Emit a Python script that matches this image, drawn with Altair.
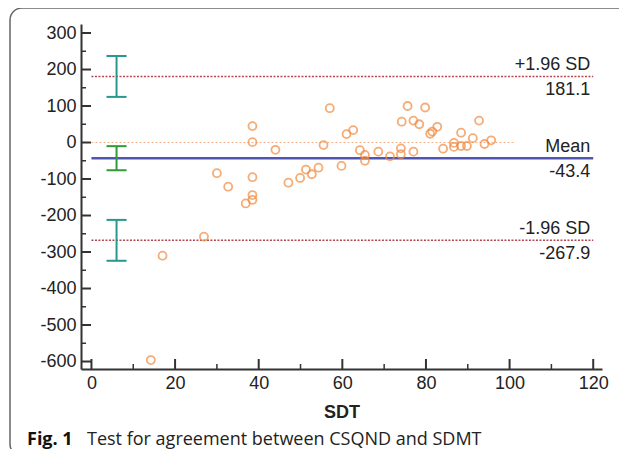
import altair as alt
import pandas as pd

# ---- data ----
sdt = [14.2, 17.0, 26.9, 30.0, 32.7, 36.9, 38.5, 38.5, 38.5, 38.5, 38.5, 44.0,
       47.1, 49.9, 51.3, 52.7, 54.3, 55.5, 57.0, 59.8, 61.0, 62.6, 64.2, 65.4,
       65.4, 68.6, 71.4, 74.0, 74.0, 74.2, 75.6, 77.0, 77.0, 78.4, 79.8, 81.0,
       81.5, 82.7, 84.1, 86.7, 86.7, 88.4, 88.4, 89.8, 91.2, 92.7, 94.0, 95.6]
diff = [-596, -310, -258, -84, -121, -167, -157, -144, -95, 1, 45, -20,
        -110, -97, -74, -87, -69, -7, 94, -64, 23, 34, -21, -34,
        -50, -25, -38, -16, -32, 57, 100, -25, 60, 50, 96, 24,
        30, 43, -17, -1, -12, 27, -9.5, -9.5, 12, 60, -4, 6]

limit_values = [181.1, -43.4, -267.9]
limit_names = ["+1.96 SD", "Mean", "-1.96 SD"]
limit_texts = ["181.1", "-43.4", "-267.9"]

ci_x = 6
ci_low = [125, -76, -324]
ci_high = [237, -10, -212]
ci_kind = ["limit", "mean", "limit"]

y_major = list(range(-600, 301, 100))
y_minor = list(range(-550, 251, 100))
x_major = [0, 20, 40, 60, 80, 100, 120]
x_minor = [10, 30, 50, 70, 90, 110]

caption_bold = "Fig. 1"
caption_text = "Test for agreement between CSQND and SDMT"

# ---- tables ----
pts = pd.DataFrame({"x": sdt, "y": diff})
lims = pd.DataFrame({"x": [0] * 3, "x2": [120] * 3, "y": limit_values,
                     "name": limit_names, "val": limit_texts,
                     "kind": ["sd", "mean", "sd"]})
zero = pd.DataFrame({"x": [0], "x2": [101], "y": [0]})
ci = pd.DataFrame({"x": [ci_x] * 3, "xa": [ci_x - 2.4] * 3, "xb": [ci_x + 2.4] * 3,
                   "lo": ci_low, "hi": ci_high, "kind": ci_kind})

W, H = 521, 345
FONT = "Liberation Sans"
FS = 18

xs = alt.Scale(domain=[-2.5, 122.1], nice=False, zero=False)
ys = alt.Scale(domain=[-620.5, 324.7], nice=False, zero=False)

x_axis = alt.Axis(values=x_major, ticks=False, labelPadding=5, labelFontSize=FS,
                  labelFont=FONT, labelColor="#222", domainColor="#333",
                  domainWidth=2, grid=False, title="SDT", titleFont=FONT,
                  titleFontSize=18, titleFontWeight="bold", titleColor="#222",
                  titlePadding=11)
y_axis = alt.Axis(values=y_major, ticks=False, labelPadding=5, labelFontSize=FS,
                  labelFont=FONT, labelColor="#222", domainColor="#333",
                  domainWidth=2, grid=False, title=None,
                  labelExpr="'' + datum.value")


def X(field, **kw):
    return alt.X(field, type="quantitative", scale=xs, axis=x_axis, title="SDT", **kw)


def Y(field, **kw):
    return alt.Y(field, type="quantitative", scale=ys, axis=y_axis, title=None, **kw)


points = alt.Chart(pts).mark_point(shape="circle", filled=False, size=64,
                                   strokeWidth=1.8, color="#f28a3e").encode(
    x=X("x"), y=Y("y"))

zero_line = alt.Chart(zero).mark_rule(color="#f7b48c", strokeWidth=1.2,
                                      strokeDash=[2, 2]).encode(
    x=X("x"), x2="x2", y=Y("y"))

sd_lines = alt.Chart(lims).transform_filter("datum.kind == 'sd'").mark_rule(
    color="#b3474f", strokeWidth=1.5, strokeDash=[2, 1.5]).encode(
    x=X("x"), x2="x2", y=Y("y"))

mean_line = alt.Chart(lims).transform_filter("datum.kind == 'mean'").mark_rule(
    color="#5054b3", strokeWidth=2.5).encode(x=X("x"), x2="x2", y=Y("y"))

lab_top = alt.Chart(lims).mark_text(align="right", baseline="alphabetic", dy=-6, dx=-3,
                                    font=FONT, fontSize=FS, color="#222").encode(
    x=X("x2"), y=Y("y"), text="name:N")
lab_bot = alt.Chart(lims).mark_text(align="right", baseline="alphabetic", dy=19, dx=-3,
                                    font=FONT, fontSize=FS, color="#222").encode(
    x=X("x2"), y=Y("y"), text="val:N")

ci_color = alt.Color("kind:N", scale=alt.Scale(domain=["limit", "mean"],
                                               range=["#27978f", "#2f9a3a"]),
                     legend=None)
ci_v = alt.Chart(ci).mark_rule(strokeWidth=2).encode(
    x=X("x"), y=Y("lo"), y2="hi", color=ci_color)
ci_top = alt.Chart(ci).mark_rule(strokeWidth=2).encode(
    x=X("xa"), x2="xb", y=Y("hi"), color=ci_color)
ci_bot = alt.Chart(ci).mark_rule(strokeWidth=2).encode(
    x=X("xa"), x2="xb", y=Y("lo"), color=ci_color)

# inward axis ticks
ymaj = alt.Chart(pd.DataFrame({"y": y_major})).mark_rule(color="#333", strokeWidth=2).encode(
    y=Y("y"), x=alt.value(0), x2=alt.value(10))
ymin = alt.Chart(pd.DataFrame({"y": y_minor})).mark_rule(color="#333", strokeWidth=1.5).encode(
    y=Y("y"), x=alt.value(0), x2=alt.value(5))
xmaj = alt.Chart(pd.DataFrame({"x": x_major})).mark_rule(color="#333", strokeWidth=2).encode(
    x=X("x"), y=alt.value(H), y2=alt.value(H - 10))
xmin = alt.Chart(pd.DataFrame({"x": x_minor})).mark_rule(color="#333", strokeWidth=1.5).encode(
    x=X("x"), y=alt.value(H), y2=alt.value(H - 5))

# figure frame and caption
frame = alt.Chart(pd.DataFrame({"a": [0]})).mark_rect(
    fill="transparent", stroke="#666", strokeWidth=1.5, cornerRadius=12).encode(
    x=alt.value(-71), x2=alt.value(570), y=alt.value(-16), y2=alt.value(432))

cap1 = alt.Chart(pd.DataFrame({"t": [caption_bold]})).mark_text(
    align="left", baseline="alphabetic", font="Open Sans", fontWeight="bold",
    fontSize=18, color="#111").encode(x=alt.value(-54), y=alt.value(421), text="t:N")
cap2 = alt.Chart(pd.DataFrame({"t": [caption_text]})).mark_text(
    align="left", baseline="alphabetic", font="Open Sans", fontSize=18,
    color="#222").encode(x=alt.value(6), y=alt.value(421), text="t:N")

chart = alt.layer(
    frame, zero_line, sd_lines, mean_line, ci_v, ci_top, ci_bot,
    points, lab_top, lab_bot, ymaj, ymin, xmaj, xmin, cap1, cap2
).properties(
    width=W, height=H,
    autosize=alt.AutoSizeParams(type="none"),
    padding={"left": 73, "top": 16, "right": 17, "bottom": 80},
    background="white",
).configure_view(strokeWidth=0)

chart.save("out.html", embed_options={"renderer": "svg", "actions": False})
